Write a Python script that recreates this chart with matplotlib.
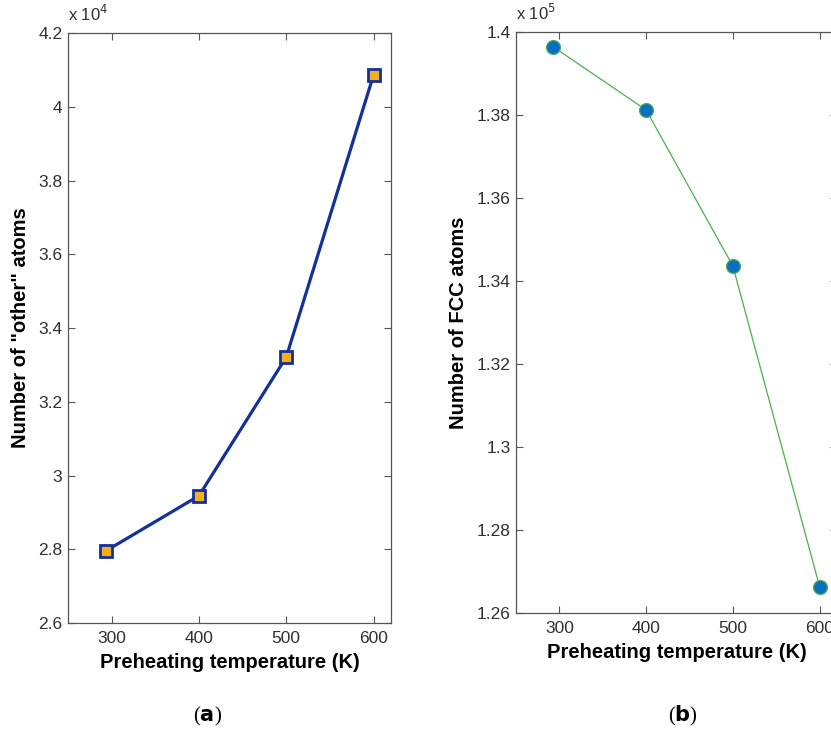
import numpy as np
import matplotlib.pyplot as plt
from matplotlib.ticker import FuncFormatter

plt.rcParams['font.family'] = ['Liberation Sans', 'DejaVu Sans']

# data
temps = [293, 400, 500, 600]
other_atoms = [27950, 29450, 33210, 40860]
fcc_atoms = [139640, 138120, 134360, 126630]

xticks = [300, 400, 500, 600]
yticks_a = np.arange(2.6e4, 4.21e4, 0.2e4)
yticks_b = np.arange(1.26e5, 1.401e5, 0.02e5)

fig = plt.figure(figsize=(8.31, 7.34), dpi=100)
ax1 = fig.add_axes([0.0818, 0.1512, 0.3887, 0.8038])
ax2 = fig.add_axes([0.6209, 0.1649, 0.3863, 0.7916])

ax1.plot(temps, other_atoms, '-s', color='#14309a', lw=2.3, ms=9,
         mfc='#f2b01e', mec='#14309a', mew=2.0)
ax2.plot(temps, fcc_atoms, '-o', color='#4bb04b', lw=0.9, ms=10,
         mfc='#0a6fc0', mec='#4bb04b', mew=0.9)

for ax, yt, ylim, scale, label, exp in [
        (ax1, yticks_a, (2.6e4, 4.2e4), 1e4, 'Number of "other" atoms', 4),
        (ax2, yticks_b, (1.26e5, 1.40e5), 1e5, 'Number of FCC atoms', 5)]:
    ax.set_xlim(250, 620)
    ax.set_ylim(*ylim)
    ax.set_xticks(xticks)
    ax.set_yticks(yt)
    ax.yaxis.set_major_formatter(FuncFormatter(lambda v, p, s=scale: f'{v/s:g}'))
    ax.tick_params(direction='in', top=True, right=True, length=5, width=0.8,
                   color='#555555', labelsize=12.5, labelcolor='#303030', pad=4)
    ax.tick_params(axis='x', pad=6)
    for sp in ax.spines.values():
        sp.set_color('#555555')
        sp.set_linewidth(0.9)
    ax.set_xlabel('Preheating temperature (K)', fontsize=14.5, fontweight='bold', labelpad=5)
    ax.set_ylabel(label, fontsize=14.5, fontweight='bold', labelpad=6)
    ax.text(0.0, 1.015, r'x 10$^{%d}$' % exp, transform=ax.transAxes,
            fontsize=12, color='#303030', ha='left', va='bottom')

fig.text(208 / 831, 1 - 716 / 734, r'($\mathbf{a}$)', ha='center', va='center',
         fontsize=15, family='Liberation Serif')
fig.text(683 / 831, 1 - 716 / 734, r'($\mathbf{b}$)', ha='center', va='center',
         fontsize=15, family='Liberation Serif')

fig.savefig('out.png', dpi=100)
